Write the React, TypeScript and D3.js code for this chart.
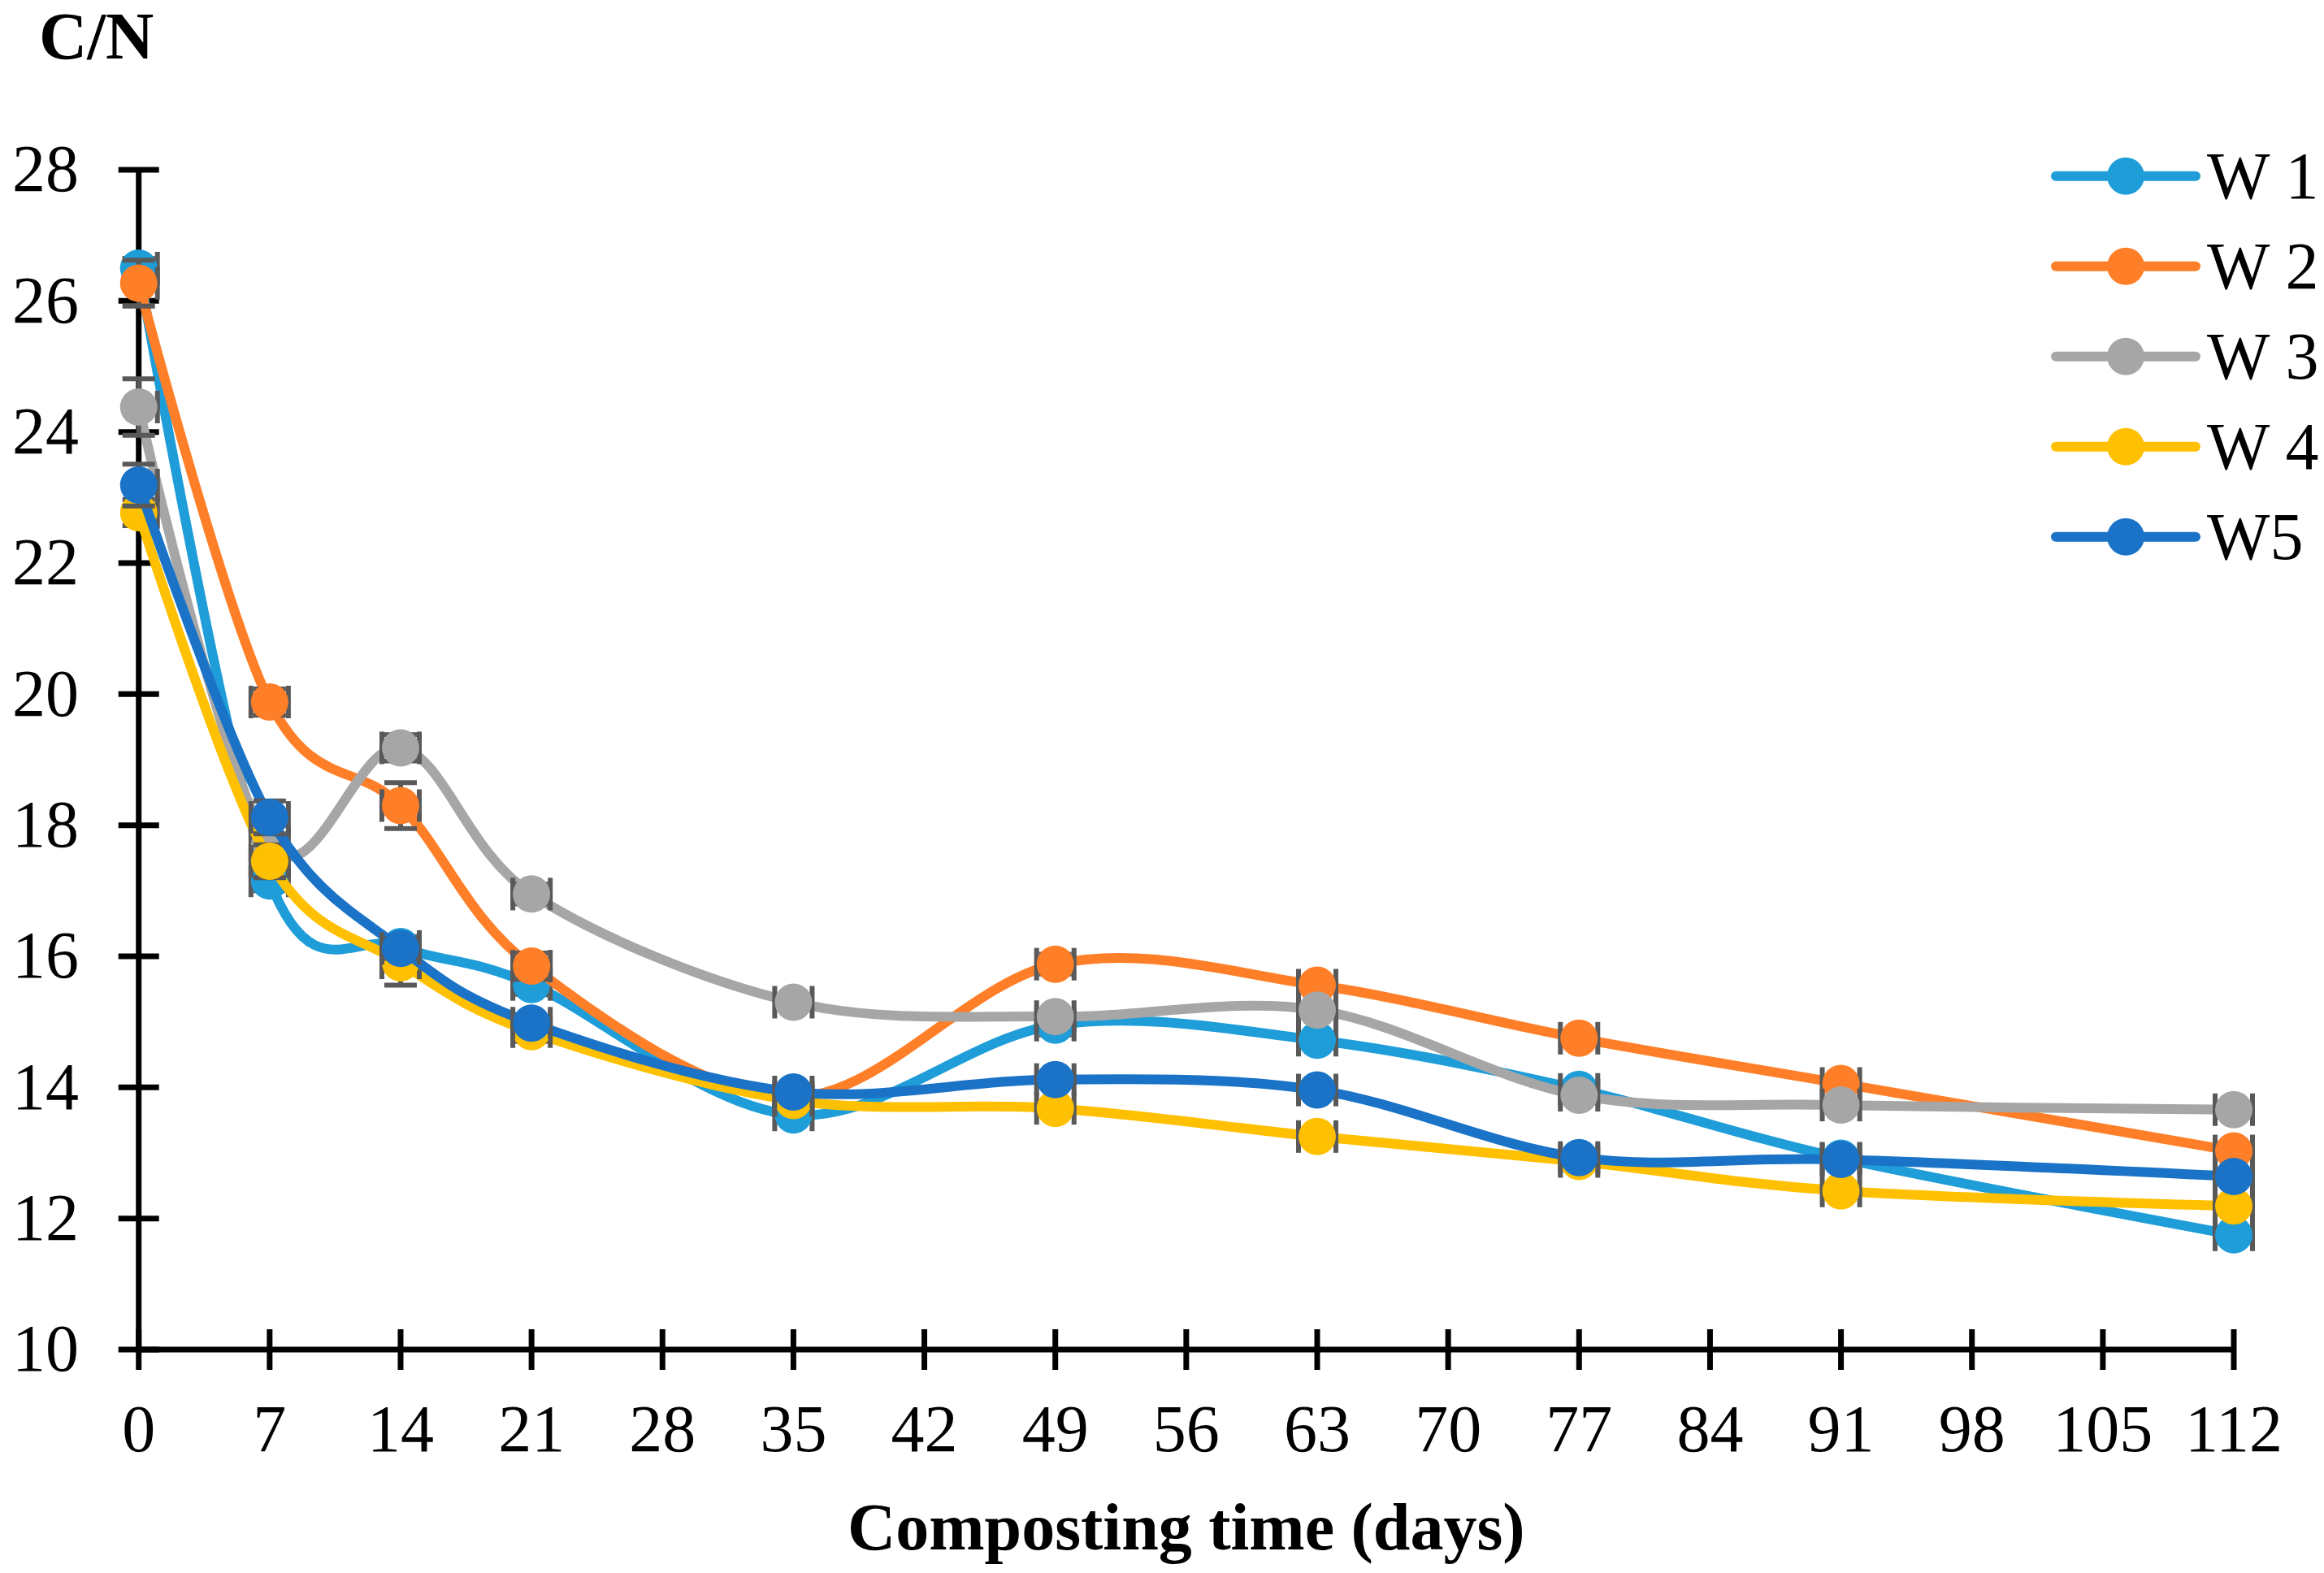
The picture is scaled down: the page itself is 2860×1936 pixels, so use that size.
import React from 'react';
import * as d3 from 'd3';

const days = [0, 7, 14, 21, 35, 49, 63, 77, 91, 112];

const seriesNames = ['W 1', 'W 2', 'W 3', 'W 4', 'W5'];
const seriesColors = ['#1e9dd9', '#fe7f28', '#a6a6a6', '#fec000', '#1a73c7'];

const w1 = [26.5, 17.15, 16.15, 15.57, 13.58, 14.95, 14.72, 13.97, 12.92, 11.75];
const w2 = [26.27, 19.88, 18.3, 15.85, 13.85, 15.88, 15.56, 14.75, 14.06, 13.03];
const w3 = [24.38, 17.7, 19.18, 16.95, 15.3, 15.08, 15.18, 13.88, 13.73, 13.66];
const w4 = [22.77, 17.45, 15.9, 14.85, 13.8, 13.68, 13.25, 12.87, 12.42, 12.19];
const w5 = [23.19, 18.12, 16.12, 14.98, 13.93, 14.12, 13.96, 12.93, 12.9, 12.64];

const err1 = [0.15, 0.15, 0.15, 0.15, 0.1, 0.15, 0.1, 0.1, 0.1, 0.1];
const err2 = [0.35, 0.2, 0.35, 0.2, 0.1, 0.15, 0.1, 0.1, 0.1, 0.1];
const err3 = [0.43, 0.3, 0.2, 0.15, 0.1, 0.1, 0.1, 0.1, 0.1, 0.1];
const err4 = [0.2, 0.25, 0.34, 0.15, 0.1, 0.1, 0.1, 0.1, 0.1, 0.1];
const err5 = [0.32, 0.25, 0.15, 0.1, 0.1, 0.1, 0.1, 0.1, 0.1, 0.1];

// horizontal error, in days
const xErr = 1;

const xTicks = d3.range(0, 113, 7);
const yTicks = d3.range(10, 29, 2);

const W = 2860, H = 1936;
const font = '"Liberation Serif", "Times New Roman", serif';

const App: React.FC = () => {
  const x = d3.scaleLinear().domain([0, 112]).range([170.7, 2749]);
  const y = d3.scaleLinear().domain([10, 28]).range([1661, 209]);

  const values = [w1, w2, w3, w4, w5];
  const errs = [err1, err2, err3, err4, err5];

  const line = d3.line<[number, number]>()
    .x(d => x(d[0]))
    .y(d => y(d[1]))
    .curve(d3.curveCardinal.tension(0));

  const cap = 20;
  const r = 23;

  return (
    <svg width={W} height={H} viewBox={`0 0 ${W} ${H}`}
      style={{ position: 'absolute', left: 0, top: 0, background: '#fff' }}>
      <rect width={W} height={H} fill="#fff" />

      {/* axes */}
      <g stroke="#000" strokeWidth={7}>
        <line x1={x(0)} x2={x(0)} y1={y(28)} y2={y(10)} />
        <line x1={x(0)} x2={x(112)} y1={y(10)} y2={y(10)} />
        {yTicks.map(t => (
          <line key={'yt' + t} x1={x(0) - 25} x2={x(0) + 25} y1={y(t)} y2={y(t)} />
        ))}
        {xTicks.map(t => (
          <line key={'xt' + t} x1={x(t)} x2={x(t)} y1={y(10) - 25} y2={y(10) + 25} />
        ))}
      </g>
      <g fontFamily={font} fontSize={82} fill="#000">
        {yTicks.map(t => (
          <text key={'yl' + t} x={97} y={y(t)} dy="0.32em" textAnchor="end">{t}</text>
        ))}
        {xTicks.map(t => (
          <text key={'xl' + t} x={x(t)} y={1786} textAnchor="middle">{t}</text>
        ))}
      </g>
      <text x={48} y={72} fontFamily={font} fontSize={82} fontWeight="bold">C/N</text>
      <text x={(x(0) + x(112)) / 2} y={1907} fontFamily={font} fontSize={82}
        fontWeight="bold" textAnchor="middle">Composting time (days)</text>

      {/* series */}
      {values.map((vals, si) => {
        const pts: [number, number][] = days.map((d, i) => [d, vals[i]]);
        const color = seriesColors[si];
        return (
          <g key={'s' + si}>
            <path d={line(pts) || ''} fill="none" stroke={color} strokeWidth={12}
              strokeLinejoin="round" strokeLinecap="round" />
            <g stroke="#595959" strokeWidth={6}>
              {pts.map(([d, v], i) => {
                const e = errs[si][i];
                const cx = x(d), cy = y(v);
                const x0 = x(Math.max(0, d - xErr)), x1 = x(d + xErr);
                return (
                  <g key={'e' + i}>
                    <line x1={cx} x2={cx} y1={y(v + e)} y2={y(v - e)} />
                    <line x1={cx - cap} x2={cx + cap} y1={y(v + e)} y2={y(v + e)} />
                    <line x1={cx - cap} x2={cx + cap} y1={y(v - e)} y2={y(v - e)} />
                    <line x1={x0} x2={x1} y1={cy} y2={cy} />
                    {d - xErr >= 0 && <line x1={x0} x2={x0} y1={cy - cap} y2={cy + cap} />}
                    <line x1={x1} x2={x1} y1={cy - cap} y2={cy + cap} />
                  </g>
                );
              })}
            </g>
            {pts.map(([d, v], i) => (
              <circle key={'m' + i} cx={x(d)} cy={y(v)} r={r} fill={color} />
            ))}
          </g>
        );
      })}

      {/* legend */}
      {seriesNames.map((name, i) => {
        const ly = 216.7 + i * 111;
        return (
          <g key={'lg' + i}>
            <line x1={2530} x2={2702} y1={ly} y2={ly} stroke={seriesColors[i]}
              strokeWidth={12} strokeLinecap="round" />
            <circle cx={2616} cy={ly} r={r} fill={seriesColors[i]} />
            <text x={2716} y={ly} dy="0.33em" fontFamily={font} fontSize={82}
              style={{ whiteSpace: 'pre' }}>{name}</text>
          </g>
        );
      })}
    </svg>
  );
};

export default App;
